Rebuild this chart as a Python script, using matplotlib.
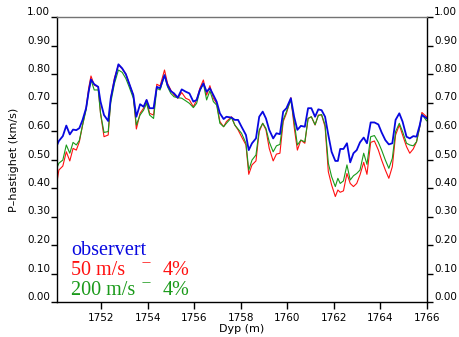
import matplotlib
matplotlib.use("Agg")
import matplotlib.pyplot as plt

# depth (m)
DEPTH = [
    1750.10, 1750.18, 1750.35, 1750.50, 1750.65, 1750.79, 1750.93, 1751.06, 1751.20, 1751.35,
    1751.46, 1751.56, 1751.70, 1751.87, 1751.97, 1752.12, 1752.30, 1752.41, 1752.57, 1752.74,
    1752.90, 1753.06, 1753.20, 1753.38, 1753.51, 1753.67, 1753.82, 1753.95, 1754.08, 1754.25,
    1754.39, 1754.53, 1754.72, 1754.85, 1754.99, 1755.13, 1755.29, 1755.46, 1755.63, 1755.79,
    1755.96, 1756.10, 1756.24, 1756.39, 1756.53, 1756.67, 1756.82, 1756.96, 1757.10, 1757.26,
    1757.38, 1757.60, 1757.74, 1757.88, 1758.03, 1758.22, 1758.34, 1758.48, 1758.65, 1758.79,
    1758.94, 1759.08, 1759.22, 1759.39, 1759.53, 1759.68, 1759.82, 1759.96, 1760.15, 1760.29,
    1760.43, 1760.58, 1760.75, 1760.89, 1761.03, 1761.19, 1761.33, 1761.47, 1761.62, 1761.76,
    1761.90, 1762.06, 1762.17, 1762.27, 1762.41, 1762.56, 1762.70, 1762.84, 1762.98, 1763.12,
    1763.28, 1763.42, 1763.58, 1763.74, 1763.91, 1764.05, 1764.21, 1764.36, 1764.51, 1764.65,
    1764.81, 1764.95, 1765.12, 1765.26, 1765.41, 1765.55, 1765.69, 1765.78, 1765.98,
]

OBSERVERT = [
    0.550, 0.565, 0.582, 0.619, 0.588, 0.605, 0.603, 0.610, 0.639, 0.680,
    0.738, 0.781, 0.764, 0.755, 0.703, 0.656, 0.635, 0.715, 0.779, 0.834,
    0.820, 0.799, 0.767, 0.726, 0.650, 0.694, 0.685, 0.709, 0.680, 0.680,
    0.755, 0.750, 0.796, 0.761, 0.740, 0.732, 0.717, 0.746, 0.738, 0.732,
    0.703, 0.709, 0.744, 0.767, 0.738, 0.750, 0.726, 0.703, 0.662, 0.642,
    0.650, 0.647, 0.639, 0.639, 0.615, 0.586, 0.533, 0.557, 0.574, 0.650,
    0.668, 0.644, 0.604, 0.574, 0.592, 0.589, 0.668, 0.680, 0.715, 0.650,
    0.604, 0.618, 0.615, 0.680, 0.680, 0.650, 0.676, 0.673, 0.650, 0.586,
    0.527, 0.495, 0.495, 0.537, 0.537, 0.557, 0.490, 0.522, 0.533, 0.560,
    0.577, 0.557, 0.630, 0.630, 0.623, 0.595, 0.568, 0.553, 0.557, 0.639,
    0.662, 0.633, 0.580, 0.574, 0.582, 0.580, 0.621, 0.656, 0.645,
]

V50 = [
    0.422, 0.463, 0.477, 0.527, 0.495, 0.539, 0.533, 0.562, 0.621, 0.680,
    0.750, 0.793, 0.761, 0.755, 0.662, 0.580, 0.586, 0.715, 0.786, 0.832,
    0.818, 0.800, 0.767, 0.726, 0.607, 0.662, 0.680, 0.709, 0.662, 0.656,
    0.764, 0.758, 0.814, 0.767, 0.744, 0.726, 0.715, 0.735, 0.715, 0.709,
    0.685, 0.709, 0.750, 0.779, 0.726, 0.759, 0.715, 0.697, 0.633, 0.615,
    0.633, 0.650, 0.621, 0.604, 0.580, 0.551, 0.448, 0.481, 0.495, 0.598,
    0.627, 0.604, 0.539, 0.495, 0.519, 0.522, 0.633, 0.662, 0.717, 0.615,
    0.533, 0.568, 0.557, 0.644, 0.650, 0.621, 0.656, 0.656, 0.615, 0.457,
    0.411, 0.370, 0.393, 0.385, 0.390, 0.451, 0.416, 0.405, 0.416, 0.446,
    0.490, 0.448, 0.560, 0.565, 0.533, 0.498, 0.463, 0.434, 0.475, 0.586,
    0.621, 0.586, 0.545, 0.522, 0.537, 0.562, 0.615, 0.665, 0.650,
]

V200 = [
    0.471, 0.487, 0.498, 0.551, 0.522, 0.560, 0.551, 0.567, 0.621, 0.674,
    0.738, 0.779, 0.744, 0.744, 0.662, 0.595, 0.598, 0.700, 0.767, 0.814,
    0.806, 0.784, 0.755, 0.715, 0.621, 0.656, 0.673, 0.697, 0.656, 0.644,
    0.750, 0.744, 0.796, 0.755, 0.732, 0.720, 0.717, 0.715, 0.706, 0.697,
    0.682, 0.697, 0.741, 0.767, 0.709, 0.741, 0.703, 0.691, 0.627, 0.615,
    0.627, 0.647, 0.621, 0.607, 0.592, 0.557, 0.463, 0.498, 0.516, 0.604,
    0.627, 0.609, 0.562, 0.527, 0.548, 0.553, 0.639, 0.668, 0.709, 0.633,
    0.551, 0.568, 0.562, 0.644, 0.650, 0.622, 0.654, 0.658, 0.621, 0.487,
    0.440, 0.405, 0.434, 0.416, 0.425, 0.481, 0.428, 0.443, 0.451, 0.463,
    0.522, 0.483, 0.580, 0.584, 0.560, 0.533, 0.498, 0.469, 0.504, 0.598,
    0.627, 0.598, 0.557, 0.551, 0.548, 0.562, 0.615, 0.659, 0.636,
]

X_TICKS = [1752, 1754, 1756, 1758, 1760, 1762, 1764, 1766]
Y_TICKS = [0.0, 0.1, 0.2, 0.3, 0.4, 0.5, 0.6, 0.7, 0.8, 0.9, 1.0]

BLUE = "#0808e0"
RED = "#ff1010"
GREEN = "#1a9a1a"

plt.rcParams.update({
    "font.family": ["DejaVu Sans"],
    "font.size": 7.5,
})

fig = plt.figure(figsize=(4.6, 3.37), dpi=100)
ax = fig.add_axes([57 / 460, 35 / 337, 370 / 460, 285 / 337])

ax.plot(DEPTH, V50, color=RED, linewidth=0.8)
ax.plot(DEPTH, V200, color=GREEN, linewidth=0.8)
ax.plot(DEPTH, OBSERVERT, color=BLUE, linewidth=1.3)

ax.set_xlim(1750.1, 1766.0)
ax.set_ylim(0.0, 1.0)
ax.set_xticks(X_TICKS)
ax.set_xticklabels([str(t) for t in X_TICKS])
ax.set_yticks(Y_TICKS)
ax.set_yticklabels([f"{t:.2f}" for t in Y_TICKS])

ax.tick_params(axis="x", direction="out", length=5, width=1, pad=3, top=False)
ax.tick_params(axis="y", direction="out", length=4, width=1, pad=1,
               left=True, right=True, labelleft=True, labelright=True)
for lab in ax.get_yticklabels(which="both"):
    lab.set_va("bottom")

for side in ("left", "right", "bottom"):
    ax.spines[side].set_color("black")
    ax.spines[side].set_linewidth(1.0)
ax.spines["top"].set_color("0.45")
ax.spines["top"].set_linewidth(1.0)

ax.set_xlabel("Dyp (m)", fontsize=8, labelpad=1)
ax.set_ylabel("P\u2013hastighet (km/s)", fontsize=8, labelpad=6)

# legend drawn as coloured text, like the original
serif = ["Liberation Serif", "DejaVu Serif"]
fs = 14.5
ax.text(0.038, 0.165, "observert", color=BLUE, fontsize=fs, family=serif,
        transform=ax.transAxes, va="baseline")
ax.text(0.038, 0.095, "50 m/s", color=RED, fontsize=fs, family=serif,
        transform=ax.transAxes, va="baseline")
ax.text(0.242, 0.137, "\u2014", color=RED, fontsize=6.5, transform=ax.transAxes,
        ha="center", va="center")
ax.text(0.286, 0.095, "4%", color=RED, fontsize=fs, family=serif,
        transform=ax.transAxes, va="baseline")
ax.text(0.038, 0.025, "200 m/s", color=GREEN, fontsize=fs, family=serif,
        transform=ax.transAxes, va="baseline")
ax.text(0.240, 0.067, "\u2014", color=GREEN, fontsize=6.5, transform=ax.transAxes,
        ha="center", va="center")
ax.text(0.286, 0.025, "4%", color=GREEN, fontsize=fs, family=serif,
        transform=ax.transAxes, va="baseline")

fig.savefig("out.png", dpi=100)
